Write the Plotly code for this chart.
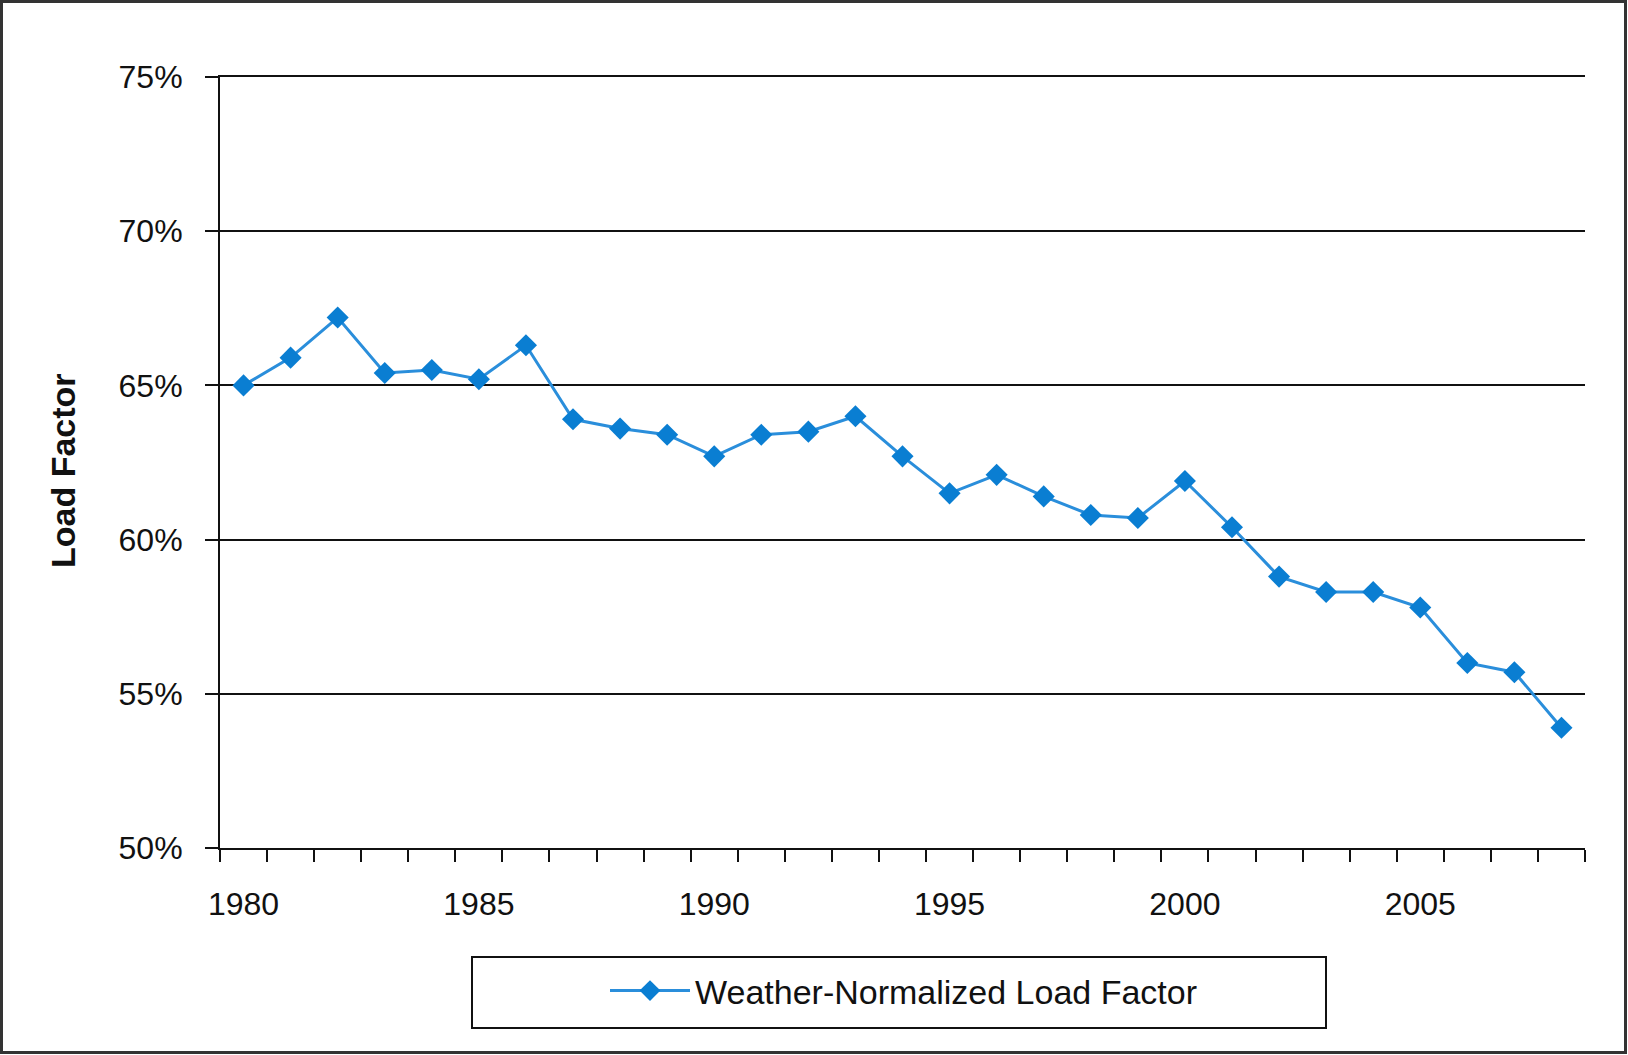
import plotly.graph_objects as go

# Annual weather-normalized load factor (%)
years = list(range(1980, 2009))
load_factor = [
    65.0, 65.9, 67.2, 65.4, 65.5, 65.2, 66.3, 63.9, 63.6, 63.4,
    62.7, 63.4, 63.5, 64.0, 62.7, 61.5, 62.1, 61.4, 60.8, 60.7,
    61.9, 60.4, 58.8, 58.3, 58.3, 57.8, 56.0, 55.7, 53.9,
]
series_name = "Weather-Normalized Load Factor"
y_title = "Load Factor"
y_ticks = [50, 55, 60, 65, 70, 75]
y_tick_labels = ["50%", "55%", "60%", "65%", "70%", "75%"]
x_ticks = [1980, 1985, 1990, 1995, 2000, 2005]
x_tick_labels = ["1980", "1985", "1990", "1995", "2000", "2005"]

W, H = 1628, 1055
ML, MR, MT, MB = 220, 43, 77, 207
PW, PH = W - ML - MR, H - MT - MB


def px_x(px):
    return (px - ML) / PW


def px_y(py):
    return (H - MB - py) / PH


FONT = "Liberation Sans, Arial, sans-serif"
INK = "#111111"
BLUE = "#0A7ED2"

fig = go.Figure()
fig.add_trace(go.Scatter(
    x=years, y=load_factor, name=series_name, mode="lines+markers",
    line=dict(color="#2A8EDB", width=3),
    marker=dict(symbol="diamond", size=17, color=BLUE, line=dict(width=0)),
))

fig.update_layout(
    width=W, height=H,
    margin=dict(l=ML, r=MR, t=MT, b=MB),
    paper_bgcolor="white", plot_bgcolor="white",
    font=dict(family=FONT, color=INK),
    showlegend=True,
    legend=dict(
        x=px_x(605), xanchor="left", y=px_y(991), yanchor="middle",
        bgcolor="rgba(0,0,0,0)", borderwidth=0, itemwidth=80,
        font=dict(size=34, family=FONT, color=INK),
    ),
    xaxis=dict(
        range=[1979.5, 2008.5], showgrid=False, zeroline=False,
        showline=True, linecolor=INK, linewidth=2, mirror=True,
        tickvals=x_ticks, ticktext=x_tick_labels,
        ticks="", ticklabelstandoff=27,
        tickfont=dict(size=32, family=FONT, color=INK),
        minor=dict(ticks="outside", tick0=1979.5, dtick=1, ticklen=12,
                   tickwidth=2, tickcolor=INK, showgrid=False),
    ),
    yaxis=dict(
        range=[50, 75], tickvals=y_ticks, ticktext=y_tick_labels,
        showgrid=True, gridcolor=INK, gridwidth=2, zeroline=False,
        showline=True, linecolor=INK, linewidth=2,
        ticks="outside", ticklen=13, tickwidth=2, tickcolor=INK,
        ticklabelstandoff=16,
        tickfont=dict(size=32, family=FONT, color=INK),
    ),
    annotations=[
        dict(text="<b>" + y_title + "</b>", textangle=-90, showarrow=False,
             xref="paper", yref="paper", x=px_x(63), y=px_y(471),
             xanchor="center", yanchor="middle",
             font=dict(size=34, family=FONT, color=INK)),
    ],
    shapes=[
        # legend frame
        dict(type="rect", xref="paper", yref="paper",
             x0=px_x(472), x1=px_x(1326), y0=px_y(1028), y1=px_y(957),
             line=dict(color=INK, width=2), fillcolor="rgba(0,0,0,0)"),
        # outer chart frame
        dict(type="rect", xref="paper", yref="paper",
             x0=px_x(1.5), x1=px_x(1625.5), y0=px_y(1052.5), y1=px_y(1.5),
             line=dict(color="#333333", width=3), fillcolor="rgba(0,0,0,0)"),
    ],
)

fig.write_html("out.html")
